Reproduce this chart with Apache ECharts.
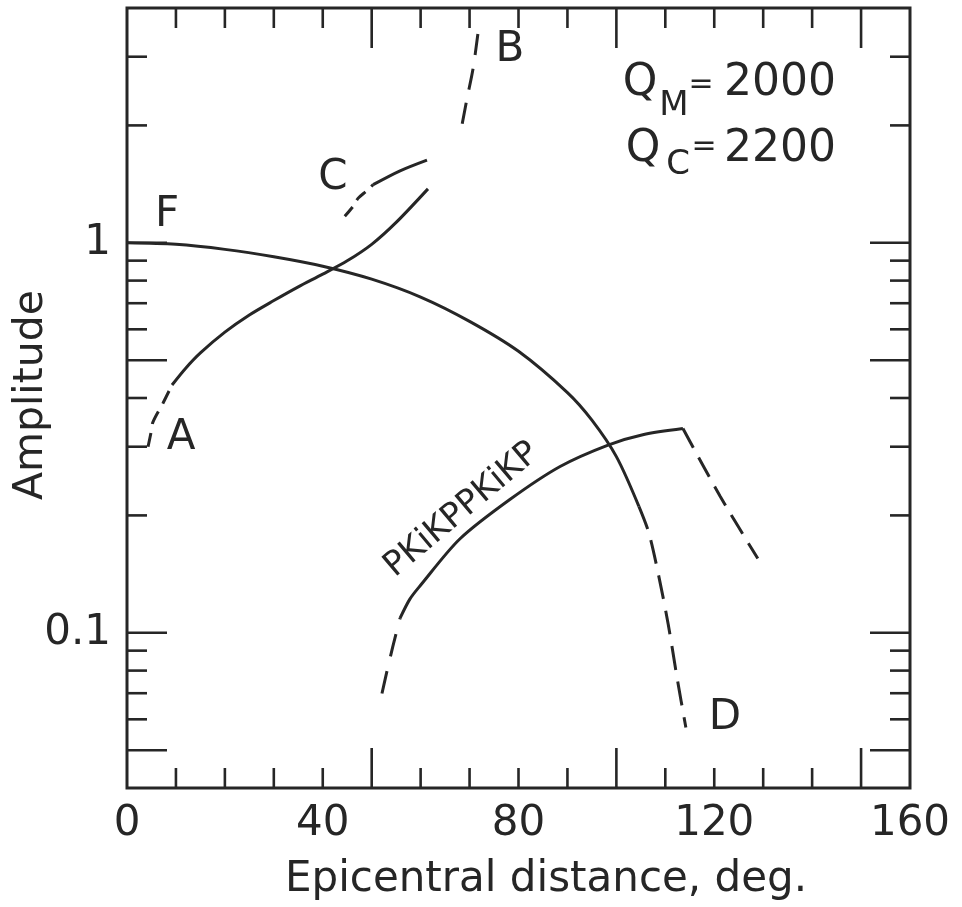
<!DOCTYPE html>
<html>
<head>
<meta charset="utf-8">
<title>Amplitude vs epicentral distance</title>
<script src="https://cdn.jsdelivr.net/npm/echarts@6/dist/echarts.min.js"></script>
<style>
  html, body { margin: 0; padding: 0; background: #ffffff; }
  #chart { width: 962px; height: 907px; }
</style>
</head>
<body>
<div id="chart"></div>
<script>
// Axis limits
const X_MIN = 0, X_MAX = 160;
const Y_MIN = 0.04, Y_MAX = 4;

// Tick marks (distance in degrees, amplitude)
const xMinorTicks = [10, 20, 30, 40, 60, 70, 80, 90, 110, 120, 130, 140];
const xMajorTicks = [50, 100, 150];
const yMinorTicks = [3, 2, 0.9, 0.8, 0.7, 0.6, 0.4, 0.3, 0.2, 0.09, 0.08, 0.07, 0.06];
const yMajorTicks = [1, 0.5, 0.1, 0.05];

// Branch F (solid part, then dashed continuation towards D)
const fSolid = [[0, 1.0], [10, 0.991], [20, 0.962], [30, 0.921], [40, 0.871], [50, 0.807],
  [60, 0.726], [70, 0.629], [80, 0.527], [90, 0.413], [95, 0.351], [100, 0.283], [104.6, 0.211]];
const fDashed = [[104.6, 0.211], [106.6, 0.181], [108.6, 0.141], [110.6, 0.105], [112.5, 0.0754], [114.2, 0.0572]];

// Branch A
const aDashed = [[4.3, 0.30], [4.9, 0.326], [5.3, 0.347], [7.4, 0.389], [9.2, 0.432]];
const aSolid = [[9.2, 0.432], [12, 0.477], [15, 0.522], [20, 0.590], [25, 0.653], [30, 0.711],
  [35, 0.771], [40, 0.831], [45, 0.899], [50, 0.991], [55, 1.128], [61.5, 1.375]];

// Branch C
const cDashed = [[44.5, 1.17], [46.2, 1.24], [47.2, 1.30], [49, 1.36], [50.3, 1.41]];
const cSolid = [[50.3, 1.41], [55.8, 1.53], [61.3, 1.63]];

// Branch B
const bDashed = [[68.5, 2.02], [69.5, 2.35], [70.7, 2.79], [71.7, 3.43]];

// PKiKPPKiKP
const pkDashedStart = [[52.1, 0.0699], [53.1, 0.0795], [54.3, 0.092], [55.8, 0.109]];
const pkSolid = [[55.8, 0.109], [57.8, 0.122], [59.9, 0.132], [68, 0.174], [78.3, 0.22], [88.5, 0.267],
  [98.3, 0.303], [105.4, 0.322], [113.6, 0.334]];
const pkDashedEnd = [[113.6, 0.334], [121.2, 0.224], [128.9, 0.155]];

const INK = '#262626';
const FONT = '"DejaVu Sans", sans-serif';

function curve(data, dash) {
  return {
    type: 'line',
    data: data,
    smooth: 0.3,
    showSymbol: false,
    symbol: 'none',
    silent: true,
    z: 3,
    lineStyle: { color: INK, width: 3, type: dash || 'solid', cap: 'butt' }
  };
}

// Ticks on all four sides of the frame, pointing inwards
function tickSeries(values, dir, len) {
  return {
    type: 'custom',
    silent: true,
    clip: false,
    z: 4,
    data: values.map(v => dir === 'x' ? [v, Y_MIN] : [X_MIN, v]),
    encode: { x: 0, y: 1 },
    renderItem: function (params, api) {
      const st = { stroke: INK, lineWidth: 2.6 };
      if (dir === 'x') {
        const xv = api.value(0);
        const b = api.coord([xv, Y_MIN]);
        const t = api.coord([xv, Y_MAX]);
        return { type: 'group', children: [
          { type: 'line', shape: { x1: b[0], y1: b[1], x2: b[0], y2: b[1] - len }, style: st },
          { type: 'line', shape: { x1: t[0], y1: t[1], x2: t[0], y2: t[1] + len }, style: st }
        ]};
      }
      const yv = api.value(1);
      const l = api.coord([X_MIN, yv]);
      const r = api.coord([X_MAX, yv]);
      return { type: 'group', children: [
        { type: 'line', shape: { x1: l[0], y1: l[1], x2: l[0] + len, y2: l[1] }, style: st },
        { type: 'line', shape: { x1: r[0], y1: r[1], x2: r[0] - len, y2: r[1] }, style: st }
      ]};
    }
  };
}

function label(text, x, y, size, extra) {
  return Object.assign({
    type: 'text', x: x, y: y, silent: true, z: 10,
    style: { text: text, fill: INK, font: size + 'px ' + FONT, align: 'center', verticalAlign: 'middle' }
  }, extra || {});
}

const chart = echarts.init(document.getElementById('chart'), null, { renderer: 'canvas' });

chart.setOption({
  animation: false,
  backgroundColor: '#ffffff',
  grid: { left: 127, right: 52, top: 8, bottom: 119, show: true, borderColor: INK, borderWidth: 3, backgroundColor: 'transparent' },
  xAxis: {
    type: 'value', min: X_MIN, max: X_MAX, interval: 40,
    axisLine: { show: false }, axisTick: { show: false }, splitLine: { show: false },
    axisLabel: { color: INK, fontFamily: FONT, fontSize: 42, margin: 15 }
  },
  yAxis: {
    type: 'log', logBase: 10, min: Y_MIN, max: Y_MAX,
    axisLine: { show: false }, axisTick: { show: false }, splitLine: { show: false }, minorSplitLine: { show: false },
    axisLabel: {
      color: INK, fontFamily: FONT, fontSize: 42, margin: 16,
      formatter: function (v) {
        if (Math.abs(v - 1) < 1e-6) return '1';
        if (Math.abs(v - 0.1) < 1e-7) return '0.1';
        return '';
      }
    }
  },
  series: [
    tickSeries(xMinorTicks, 'x', 20),
    tickSeries(xMajorTicks, 'x', 40),
    tickSeries(yMinorTicks, 'y', 20),
    tickSeries(yMajorTicks, 'y', 40),
    curve(fSolid),
    curve(fDashed, [24, 12]),
    curve(aDashed, [14, 9]),
    curve(aSolid),
    curve(cDashed, [12, 8]),
    curve(cSolid),
    curve(bDashed, [21, 14]),
    curve(pkDashedStart, [23, 15]),
    curve(pkSolid),
    curve(pkDashedEnd, [22, 11])
  ],
  graphic: [
    label('F', 167, 215, 42),
    label('A', 181, 438, 42),
    label('B', 510, 50, 42),
    label('C', 333, 178, 42),
    label('D', 725, 718, 42),
    label('PKiKPPKiKP', 462, 510, 34, { rotation: 40 * Math.PI / 180 }),
    label('Q', 640, 84, 44),
    label('M', 674, 106, 34),
    label('=', 701, 85, 30),
    label('2000', 780, 84, 44),
    label('Q', 643, 150, 44),
    label('C', 678, 165, 34),
    label('=', 704, 147, 30),
    label('2200', 780, 150, 44),
    label('Amplitude', 31, 395, 41, { rotation: Math.PI / 2 }),
    label('Epicentral distance, deg.', 546, 880, 42)
  ]
});
</script>
</body>
</html>
